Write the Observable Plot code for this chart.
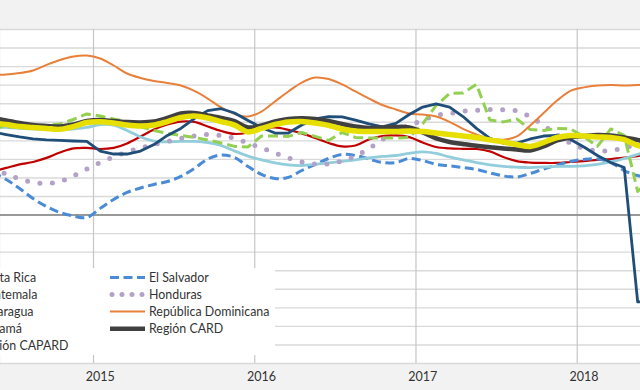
<!DOCTYPE html>
<html><head><meta charset="utf-8">
<script src="https://cdn.jsdelivr.net/npm/d3@7"></script>
<script src="https://cdn.jsdelivr.net/npm/@observablehq/plot@0.6"></script>
<style>
html,body{margin:0;padding:0;background:#f2f2f2;overflow:hidden;}
svg{overflow:hidden;display:block;}
</style></head><body><div id="chart"></div><script>
const months = ["2014-05","2014-06","2014-07","2014-08","2014-09","2014-10","2014-11","2014-12",
"2015-01","2015-02","2015-03","2015-04","2015-05","2015-06","2015-07","2015-08","2015-09","2015-10","2015-11","2015-12",
"2016-01","2016-02","2016-03","2016-04","2016-05","2016-06","2016-07","2016-08","2016-09","2016-10","2016-11","2016-12",
"2017-01","2017-02","2017-03","2017-04","2017-05","2017-06","2017-07","2017-08","2017-09","2017-10","2017-11","2017-12",
"2018-01","2018-02","2018-03","2018-04","2018-05","2018-06"];
const yearLabels = ["2015","2016","2017","2018"];
const yTicks = [-8,-7,-6,-5,-4,-3,-2,-1,0,1,2,3,4,5,6,7,8,9,10];

const costaRica = [2.35,2.54,2.73,2.86,3.08,3.37,3.59,3.62,3.56,3.62,3.86,4.23,4.61,4.88,5.04,5.02,4.77,4.53,4.37,4.45,4.67,4.72,4.59,4.40,4.15,3.88,3.70,3.75,4.07,4.26,4.29,4.20,3.91,3.67,3.59,3.57,3.56,3.43,3.13,2.91,2.83,2.81,2.81,2.86,2.91,2.97,3.02,3.10,3.18,3.27];
const elSalvador = [2.30,1.92,1.43,0.89,0.46,0.14,-0.05,-0.13,0.36,0.84,1.22,1.46,1.65,1.81,2.08,2.51,3.02,3.24,3.10,2.62,2.19,1.97,2.03,2.40,2.73,3.05,3.27,3.21,3.02,2.83,2.83,3.05,2.94,2.73,2.65,2.56,2.46,2.27,2.11,2.05,2.24,2.48,2.70,2.89,3.00,3.02,2.83,2.40,2.13,2.03];
const guatemala = [4.75,4.72,4.67,4.64,4.61,4.59,4.64,4.72,4.88,4.85,4.56,4.21,3.99,3.94,3.97,3.97,3.91,3.75,3.45,3.18,2.97,2.81,2.70,2.67,2.73,2.81,2.89,2.97,3.08,3.16,3.21,3.32,3.40,3.32,3.13,2.97,2.83,2.70,2.62,2.58,2.56,2.59,2.62,2.62,2.65,2.73,2.86,3.05,3.27,3.48];
const honduras = [2.56,2.21,1.95,1.76,1.70,1.81,2.11,2.48,2.83,3.13,3.40,3.62,3.80,3.97,4.13,4.26,4.34,4.29,4.13,3.88,3.62,3.35,3.08,2.86,2.75,2.76,2.91,3.17,3.59,4.07,4.53,4.85,5.10,5.37,5.47,5.60,5.65,5.69,5.68,5.61,5.29,4.83,4.32,3.88,3.59,3.46,3.48,3.62,3.83,4.07];
const nicaragua = [4.72,4.75,4.75,4.77,4.83,4.91,5.15,5.45,5.34,5.18,5.04,4.77,4.56,4.40,4.29,4.18,4.05,3.88,3.70,3.67,4.26,4.26,4.24,4.45,4.24,4.02,4.45,4.18,4.15,4.15,4.15,4.18,4.91,5.91,6.55,6.58,7.04,5.12,5.02,5.18,4.61,4.56,4.67,4.64,4.23,3.70,4.64,4.29,1.27,1.97];
const repDominicana = [7.55,7.58,7.65,7.79,8.09,8.36,8.55,8.60,8.44,8.06,7.63,7.39,7.23,7.12,6.98,6.69,6.28,5.80,5.45,5.31,5.58,6.12,6.66,7.14,7.41,7.33,7.04,6.66,6.28,5.93,5.69,5.47,5.42,5.31,5.02,4.64,4.34,4.12,4.06,4.24,4.83,5.50,6.17,6.69,6.88,6.98,7.01,6.98,7.01,7.04];
const panama = [4.48,4.34,4.21,4.10,4.05,4.02,3.99,3.97,3.45,3.29,3.29,3.45,3.80,4.29,4.67,5.20,5.63,5.73,5.50,5.10,4.72,4.42,4.42,4.85,5.18,5.31,5.29,5.12,4.91,4.75,4.94,5.42,5.82,5.99,5.82,5.31,4.67,4.13,3.88,3.88,4.10,4.26,4.29,4.07,3.67,3.21,2.83,2.56,-4.68,-4.66];
const regionCARD = [5.23,5.10,4.96,4.85,4.80,4.77,4.88,5.07,5.12,5.07,5.01,4.99,5.04,5.23,5.47,5.50,5.37,5.23,5.06,4.72,4.83,5.04,5.18,5.22,5.18,5.07,4.91,4.77,4.69,4.72,4.75,4.72,4.45,4.13,3.94,3.83,3.73,3.66,3.59,3.53,3.48,3.70,4.02,4.18,4.26,4.32,4.29,4.18,4.05,3.97];
const regionCAPARD = [4.96,4.88,4.77,4.72,4.67,4.62,4.77,4.99,5.03,4.96,4.85,4.80,4.85,5.04,5.26,5.34,5.23,5.04,4.85,4.48,4.67,4.88,5.02,5.04,4.96,4.83,4.64,4.53,4.50,4.50,4.50,4.53,4.50,4.42,4.34,4.26,4.18,4.05,3.94,3.80,3.70,3.91,4.18,4.29,4.26,4.21,4.18,4.07,3.75,3.59];

// drawing order and styles
const styles = [
  {name:"Costa Rica", values:costaRica, stroke:"#c00000", w:2.2, curve:"catmull-rom"},
  {name:"El Salvador", values:elSalvador, stroke:"#4a8bd6", w:3, dash:"9,4.5", curve:"catmull-rom"},
  {name:"Guatemala", values:guatemala, stroke:"#92cddc", w:2.8, curve:"catmull-rom"},
  {name:"Honduras", values:honduras, stroke:"#b3a2c7", w:5, dash:"0,12.5", cap:"round", curve:"catmull-rom"},
  {name:"Nicaragua", values:nicaragua, stroke:"#92d050", w:3, dash:"10,5", curve:"linear"},
  {name:"República Dominicana", values:repDominicana, stroke:"#e8803a", w:2, curve:"catmull-rom"},
  {name:"Panamá", values:panama, stroke:"#1f4e79", w:2.8, curve:"linear"},
  {name:"Región CARD", values:regionCARD, stroke:"#404040", w:4.5, curve:"catmull-rom"},
  {name:"Región CAPARD", values:regionCAPARD, stroke:"#e6df00", w:5.5, curve:"catmull-rom"}
];
const toK = s => { const [y,m] = s.split("-").map(Number); return (y-2015)*12 + (m-1); };
const rows = styles.flatMap(s => s.values.map((v,i) => ({k: toK(months[i]), v, name: s.name})));

const lineMarks = styles.map(s => Plot.line(rows.filter(r => r.name === s.name), {
  x:"k", y:"v", stroke:s.stroke, strokeWidth:s.w, strokeDasharray:s.dash,
  strokeLinecap: s.cap || "butt", strokeLinejoin:"round", curve:s.curve, clip:true
}));

const plot = Plot.plot({
  width:640, height:390,
  marginTop:29, marginBottom:27, marginLeft:0, marginRight:0,
  style:{background:"#f2f2f2", fontFamily:"Lato, sans-serif"},
  x:{type:"linear", domain:[-7.422, 40.21], axis:null},
  y:{domain:[-8,10], axis:null},
  marks:[
    Plot.frame({fill:"white", stroke:null}),
    Plot.ruleY(yTicks, {stroke:"#d9d9d9", strokeWidth:1.4}),
    Plot.ruleX(yearLabels, {x: d => toK(d + "-01") - 0.5, stroke:"#c6c6c6", strokeWidth:1.2}),
    Plot.ruleY([0], {stroke:"#808080", strokeWidth:1.5}),
    ...lineMarks,
    Plot.text(yearLabels, {x: d => toK(d + "-01"), frameAnchor:"bottom", dy:17, text: d => d,
      fontSize:12.5, fill:"#333", fontFamily:"Lato, sans-serif"})
  ]
});
document.getElementById("chart").appendChild(plot);

// legend (Excel-style, inside the plot area; the chart is cropped at its left edge)
const svg = d3.select(plot);
const lg = svg.append("g").attr("font-family","Lato, sans-serif").attr("font-size",12.4)
  .attr("fill","#333").attr("text-anchor","start");
lg.append("rect").attr("x",-120).attr("y",268).attr("width",395).attr("height",87).attr("fill","white");
const byName = Object.fromEntries(styles.map(s => [s.name, s]));
const leftCol = ["Costa Rica","Guatemala","Nicaragua","Panamá","Región CAPARD"];
const rightCol = ["El Salvador","Honduras","República Dominicana","Región CARD"];
const rowY = i => 277.4 + i*17.1;
function entry(name, i, x0) {
  const s = byName[name];
  const ex0 = s.cap === "round" ? x0 + 2 : x0;
  lg.append("line").attr("x1",ex0).attr("x2",x0+35).attr("y1",rowY(i)).attr("y2",rowY(i))
    .attr("stroke",s.stroke).attr("stroke-width",s.w)
    .attr("stroke-dasharray", s.cap === "round" ? "0,10" : (s.dash || null))
    .attr("stroke-linecap", s.cap || "butt");
  lg.append("text").attr("x",x0+39).attr("y",rowY(i)).attr("dy","0.36em")
    .attr("text-anchor","start").text(name);
}
leftCol.forEach((n,i) => entry(n, i, -60));
rightCol.forEach((n,i) => entry(n, i, 110));
</script></body></html>
